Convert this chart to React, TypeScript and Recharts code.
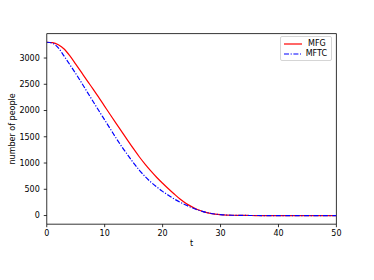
import React from 'react';
import { LineChart, Line, XAxis, YAxis, Legend, Label, ReferenceLine } from 'recharts';

// time steps and the two series
const tValues = Array.from({ length: 51 }, (_, i) => i);
const mfgValues = [
  3300, 3292, 3252, 3172, 3040, 2885, 2725, 2565, 2408, 2245,
  2080, 1915, 1752, 1590, 1428, 1268, 1115, 975, 845, 725,
  615, 510, 410, 315, 235, 170, 115, 75, 47, 28,
  16, 9, 5, 3, 2, 1, 0, 0, 0, 0,
  0, 0, 0, 0, 0, 0, 0, 0, 0, 0, 0,
];
const mftcValues = [
  3300, 3280, 3195, 3035, 2872, 2705, 2530, 2350, 2172, 1995,
  1820, 1645, 1470, 1305, 1150, 1000, 862, 740, 635, 545,
  460, 385, 315, 255, 200, 152, 110, 75, 48, 29,
  17, 10, 5, 3, 2, 1, 1, 0, 0, 0,
  0, 0, 0, 0, 0, 0, 0, 0, 0, 0, 0,
];
const xTicks = [0, 10, 20, 30, 40, 50];
const yTicks = [0, 500, 1000, 1500, 2000, 2500, 3000];
const seriesNames = ['MFG', 'MFTC'];

const data = tValues.map((t, i) => ({ t, mfg: mfgValues[i], mftc: mftcValues[i] }));

const X_DOMAIN: [number, number] = [0, 50];
const Y_DOMAIN: [number, number] = [-165, 3465];

const FONT = 'DejaVu Sans, sans-serif';
const tickStyle = { fill: '#000', fontSize: 8, fontFamily: FONT };

function LegendBox() {
  const items = [
    { name: seriesNames[0], color: '#ff0000', dash: undefined },
    { name: seriesNames[1], color: '#0000ff', dash: '5 1.6 1.2 1.6' },
  ];
  return (
    <div
      style={{
        border: '1px solid #d5d5d5',
        borderRadius: 2,
        background: '#fff',
        padding: '2px 4px 1px 2px',
        fontFamily: FONT,
        fontSize: 8,
        lineHeight: '10px',
        width: 44,
      }}
    >
      {items.map((it) => (
        <div key={it.name} style={{ display: 'flex', alignItems: 'center' }}>
          <svg width={20} height={10} style={{ marginRight: 5 }}>
            <line x1={1} y1={5} x2={19} y2={5} stroke={it.color} strokeWidth={1.2} strokeDasharray={it.dash} />
          </svg>
          <span style={{ color: '#000' }}>{it.name}</span>
        </div>
      ))}
    </div>
  );
}

export default function App() {
  return (
    <div style={{ position: 'absolute', left: 0, top: 0, width: 374, height: 280, background: '#fff' }}>
      <LineChart
        width={374}
        height={280}
        data={data}
        margin={{ top: 33.6, right: 37.6, bottom: 0, left: 0 }}
      >
        <XAxis
          dataKey="t"
          type="number"
          domain={X_DOMAIN}
          ticks={xTicks}
          height={30.8}
          stroke="#000"
          strokeWidth={0.8}
          tickSize={3}
          tickMargin={3}
          tick={tickStyle}
          allowDataOverflow
        >
          <Label value="t" position="insideBottom" offset={9} style={{ fill: '#000', fontSize: 8, fontFamily: FONT }} />
        </XAxis>
        <YAxis
          type="number"
          domain={Y_DOMAIN}
          ticks={yTicks}
          width={46.75}
          stroke="#000"
          strokeWidth={0.8}
          tickSize={3}
          tickMargin={4}
          tick={tickStyle}
          allowDataOverflow
        >
          <Label
            value="number of people"
            angle={-90}
            position="insideLeft"
            offset={12}
            style={{ fill: '#000', fontSize: 8, fontFamily: FONT, textAnchor: 'middle' }}
          />
        </YAxis>
        {/* top and right spines */}
        <ReferenceLine x={X_DOMAIN[1]} stroke="#000" strokeWidth={0.8} ifOverflow="visible" />
        <ReferenceLine y={Y_DOMAIN[1]} stroke="#000" strokeWidth={0.8} ifOverflow="visible" />
        <Legend
          content={() => <LegendBox />}
          wrapperStyle={{ position: 'absolute', left: 280, top: 36, width: 'auto' }}
        />
        <Line
          type="monotone"
          dataKey="mfg"
          name={seriesNames[0]}
          stroke="#ff0000"
          strokeWidth={1.2}
          dot={false}
          isAnimationActive={false}
        />
        <Line
          type="monotone"
          dataKey="mftc"
          name={seriesNames[1]}
          stroke="#0000ff"
          strokeWidth={1.2}
          strokeDasharray="5 1.6 1.2 1.6"
          dot={false}
          isAnimationActive={false}
        />
      </LineChart>
    </div>
  );
}
